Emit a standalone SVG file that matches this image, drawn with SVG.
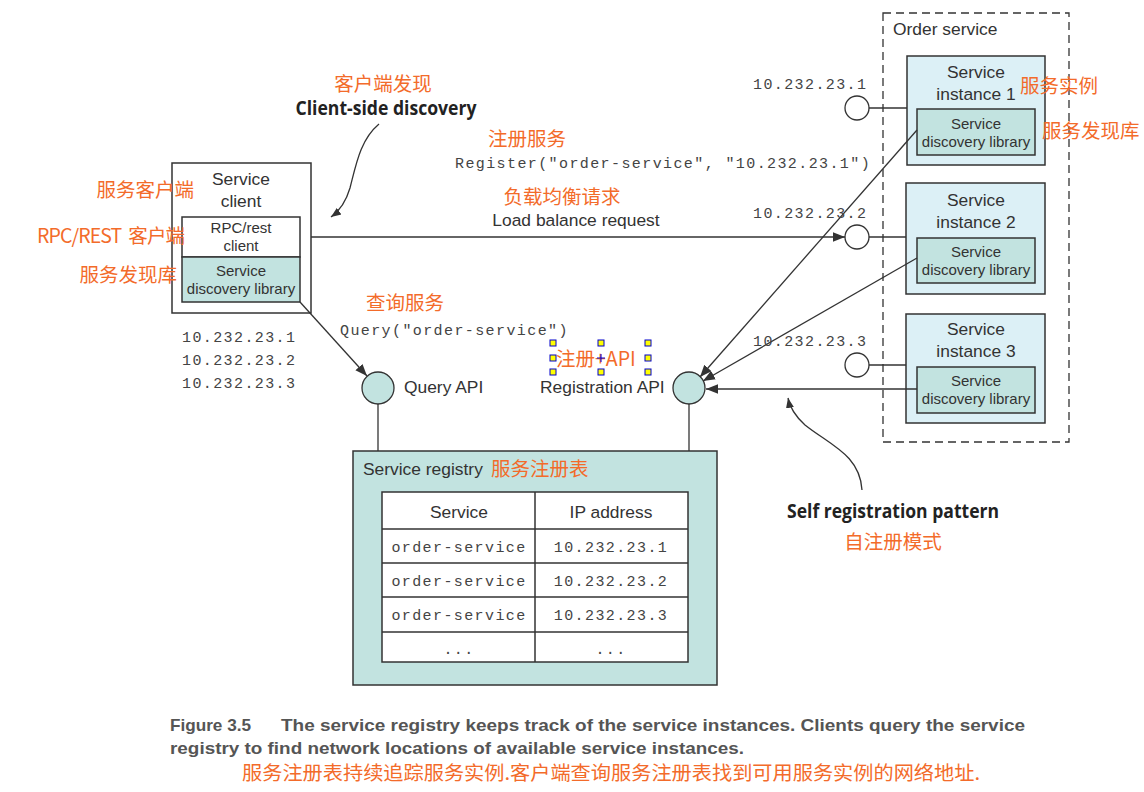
<svg xmlns="http://www.w3.org/2000/svg" width="1144" height="792" viewBox="0 0 1144 792">
<style>
.s{font-family:"Liberation Sans",Arial,sans-serif;fill:#333;}
.L{font-size:17.4px;}
.S{font-size:15px;}
.m{font-family:"Liberation Mono","Courier New",monospace;fill:#444;font-size:15px;letter-spacing:1.4px;}
.cn{font-family:"Noto Sans CJK SC",sans-serif;fill:#f36b2a;font-size:19.5px;}
.b{font-family:"Open Sans","Liberation Sans",sans-serif;font-weight:700;fill:#222;}
.cap{font-family:"Liberation Sans",Arial,sans-serif;font-weight:700;fill:#555;font-size:17px;}
.ln{stroke:#333;stroke-width:1.3;fill:none;}
.box{stroke:#333;stroke-width:1.5;}
.h{fill:#ffff00;stroke:#0000cc;stroke-width:1;}
</style>
<defs>
<marker id="ar" viewBox="0 0 10 10" refX="10" refY="5" markerWidth="10" markerHeight="10" markerUnits="userSpaceOnUse" orient="auto">
<path d="M0,1 L10,5 L0,9 z" fill="#333"/>
</marker>
<marker id="ar2" viewBox="0 0 10 10" refX="10" refY="5" markerWidth="12" markerHeight="12" markerUnits="userSpaceOnUse" orient="auto">
<path d="M0,1 L10,5 L0,9 z" fill="#333"/>
</marker>
</defs>
<rect width="1144" height="792" fill="#fff"/>

<g id="order-service">
<rect x="883" y="13" width="186" height="429" fill="none" stroke="#333" stroke-width="1.3" stroke-dasharray="8,5"/>
<text class="s L" x="893" y="35">Order service</text>
</g>

<g id="instance1">
<rect class="box" x="907" y="56" width="138" height="109" fill="#dcf0f6"/>
<text class="s L" x="976" y="78" text-anchor="middle">Service</text>
<text class="s L" x="976" y="100" text-anchor="middle">instance 1</text>
<rect class="box" x="917" y="109" width="118" height="46" fill="#c2e3e0"/>
<text class="s S" x="976" y="129" text-anchor="middle">Service</text>
<text class="s S" x="976" y="147" text-anchor="middle">discovery library</text>
</g>
<g id="instance2">
<rect class="box" x="906" y="183" width="139" height="111" fill="#dcf0f6"/>
<text class="s L" x="976" y="206" text-anchor="middle">Service</text>
<text class="s L" x="976" y="228" text-anchor="middle">instance 2</text>
<rect class="box" x="917" y="238" width="118" height="45" fill="#c2e3e0"/>
<text class="s S" x="976" y="257" text-anchor="middle">Service</text>
<text class="s S" x="976" y="275" text-anchor="middle">discovery library</text>
</g>
<g id="instance3">
<rect class="box" x="906" y="314" width="139" height="109" fill="#dcf0f6"/>
<text class="s L" x="976" y="335" text-anchor="middle">Service</text>
<text class="s L" x="976" y="357" text-anchor="middle">instance 3</text>
<rect class="box" x="917" y="367" width="118" height="46" fill="#c2e3e0"/>
<text class="s S" x="976" y="386" text-anchor="middle">Service</text>
<text class="s S" x="976" y="404" text-anchor="middle">discovery library</text>
</g>

<g id="service-client">
<rect class="box" x="172" y="163" width="139" height="150" fill="#fff"/>
<text class="s L" x="241" y="185" text-anchor="middle">Service</text>
<text class="s L" x="241" y="207" text-anchor="middle">client</text>
<rect class="box" x="182" y="217" width="118" height="40" fill="#fff"/>
<text class="s S" x="241" y="233" text-anchor="middle">RPC/rest</text>
<text class="s S" x="241" y="251" text-anchor="middle">client</text>
<rect class="box" x="182" y="257" width="118" height="45" fill="#c2e3e0"/>
<text class="s S" x="241" y="276" text-anchor="middle">Service</text>
<text class="s S" x="241" y="294" text-anchor="middle">discovery library</text>
</g>

<g id="ip-circles">
<circle cx="857" cy="108" r="12" fill="#fff" stroke="#333" stroke-width="1.3"/>
<circle cx="857" cy="237" r="12" fill="#fff" stroke="#333" stroke-width="1.3"/>
<circle cx="857" cy="365" r="12" fill="#fff" stroke="#333" stroke-width="1.3"/>
</g>

<g id="query-api">
<circle cx="378" cy="388" r="16" fill="#c2e3e0" stroke="#333" stroke-width="1.3"/>
<text class="s L" x="404" y="393">Query API</text>
</g>
<g id="registration-api">
<circle cx="689" cy="388" r="16" fill="#c2e3e0" stroke="#333" stroke-width="1.3"/>
<text class="s L" x="540" y="393">Registration API</text>
</g>

<g id="service-registry">
<rect class="box" x="353" y="451" width="364" height="234" fill="#c2e3e0"/>
<text class="s L" x="363" y="475">Service registry</text>
<text class="cn" x="491" y="476">服务注册表</text>
<rect x="382" y="492" width="306" height="170" fill="#fff" stroke="#333" stroke-width="1.5"/>
<g stroke="#333" stroke-width="1.5">
<line x1="535" y1="492" x2="535" y2="662"/>
<line x1="382" y1="529" x2="688" y2="529"/>
<line x1="382" y1="563" x2="688" y2="563"/>
<line x1="382" y1="597" x2="688" y2="597"/>
<line x1="382" y1="632" x2="688" y2="632"/>
</g>
<text class="s L" x="459" y="518" text-anchor="middle">Service</text>
<text class="s L" x="611" y="518" text-anchor="middle">IP address</text>
<text class="m" x="459" y="552" text-anchor="middle">order-service</text>
<text class="m" x="611" y="552" text-anchor="middle">10.232.23.1</text>
<text class="m" x="459" y="586" text-anchor="middle">order-service</text>
<text class="m" x="611" y="586" text-anchor="middle">10.232.23.2</text>
<text class="m" x="459" y="620" text-anchor="middle">order-service</text>
<text class="m" x="611" y="620" text-anchor="middle">10.232.23.3</text>
<text class="m" x="459" y="654" text-anchor="middle">...</text>
<text class="m" x="611" y="654" text-anchor="middle">...</text>
</g>

<g id="connectors">
<line class="ln" x1="869" y1="108" x2="907" y2="108"/>
<line class="ln" x1="869" y1="237" x2="906" y2="237"/>
<line class="ln" x1="869" y1="365" x2="906" y2="365"/>
<line class="ln" x1="311" y1="237" x2="845" y2="237" marker-end="url(#ar2)"/>
<line class="ln" x1="300" y1="302" x2="367" y2="376" marker-end="url(#ar2)"/>
<line class="ln" x1="378" y1="404" x2="378" y2="451"/>
<line class="ln" x1="689" y1="404" x2="689" y2="451"/>
<line class="ln" x1="917" y1="130" x2="700" y2="377" marker-end="url(#ar2)"/>
<line class="ln" x1="917" y1="258" x2="703" y2="381" marker-end="url(#ar2)"/>
<line class="ln" x1="917" y1="389" x2="706" y2="389" marker-end="url(#ar2)"/>
<path class="ln" d="M379,124 C360,140 356,165 350,188 C345,205 338,212 331,217" marker-end="url(#ar)"/>
<path class="ln" d="M862,490 C860,455 830,445 805,425 C795,416 790,408 788,398" marker-end="url(#ar)"/>
</g>

<g id="labels">
<text class="cn" x="383" y="91" text-anchor="middle">客户端发现</text>
<text class="b" x="386" y="115" font-size="19" text-anchor="middle" textLength="181" lengthAdjust="spacingAndGlyphs">Client-side discovery</text>
<text class="cn" x="527" y="146" text-anchor="middle">注册服务</text>
<text class="m" x="455" y="168">Register("order-service", "10.232.23.1")</text>
<text class="cn" x="562" y="204" text-anchor="middle" font-size="18.5">负载均衡请求</text>
<text class="s L" x="576" y="226" text-anchor="middle">Load balance request</text>
<text class="m" x="753" y="89">10.232.23.1</text>
<text class="m" x="753" y="218">10.232.23.2</text>
<text class="m" x="753" y="346">10.232.23.3</text>
<text class="cn" x="1020" y="93">服务实例</text>
<text class="cn" x="1042" y="138">服务发现库</text>
<text class="cn" x="194" y="197" text-anchor="end">服务客户端</text>
<text class="cn" x="37" y="243" font-size="17" textLength="148" lengthAdjust="spacing" xml:space="preserve">RPC/REST  客户端</text>
<text class="cn" x="177" y="282" text-anchor="end">服务发现库</text>
<text class="m" x="182" y="342">10.232.23.1</text>
<text class="m" x="182" y="365">10.232.23.2</text>
<text class="m" x="182" y="388">10.232.23.3</text>
<text class="cn" x="405" y="310" text-anchor="middle">查询服务</text>
<text class="m" x="340" y="335">Query("order-service")</text>
<text class="cn" x="556" y="366">注册+API</text>
<text class="b" x="893" y="518" font-size="19" text-anchor="middle" textLength="212" lengthAdjust="spacingAndGlyphs">Self registration pattern</text>
<text class="cn" x="893" y="549" text-anchor="middle">自注册模式</text>
</g>

<g id="handles">
<rect class="h" x="550" y="340" width="6" height="6"/>
<rect class="h" x="598" y="340" width="6" height="6"/>
<rect class="h" x="645" y="340" width="6" height="6"/>
<rect class="h" x="550" y="355" width="6" height="6"/>
<rect class="h" x="645" y="355" width="6" height="6"/>
<rect class="h" x="550" y="369" width="6" height="6"/>
<rect class="h" x="598" y="369" width="6" height="6"/>
<rect class="h" x="645" y="369" width="6" height="6"/>
<path d="M597,358 H605 M601,354 V362" stroke="#0000cc" stroke-width="1"/>
</g>

<g id="caption">
<text class="cap" x="170" y="731" textLength="81" lengthAdjust="spacingAndGlyphs">Figure 3.5</text>
<text class="cap" x="281" y="731" textLength="744" lengthAdjust="spacingAndGlyphs">The service registry keeps track of the service instances. Clients query the service</text>
<text class="cap" x="170" y="754" textLength="574" lengthAdjust="spacingAndGlyphs">registry to find network locations of available service instances.</text>
<text class="cn" x="242" y="780" font-size="18" textLength="738" lengthAdjust="spacingAndGlyphs">服务注册表持续追踪服务实例.客户端查询服务注册表找到可用服务实例的网络地址.</text>
</g>
</svg>
